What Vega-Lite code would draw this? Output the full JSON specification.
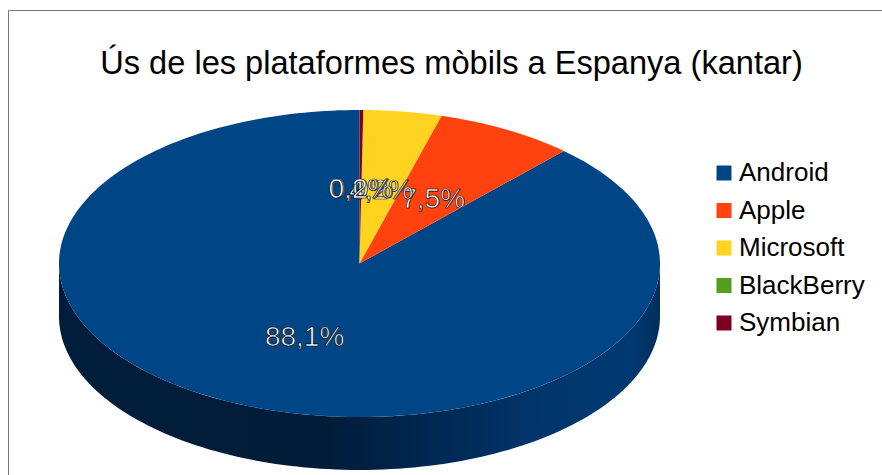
{
  "$schema": "https://vega.github.io/schema/vega-lite/v6.json",
  "width": 875,
  "height": 466,
  "padding": {"left": 8, "top": 10, "right": 0, "bottom": 0},
  "autosize": {"type": "none"},
  "background": "white",
  "title": {
    "text": "Ús de les plataformes mòbils a Espanya (kantar)",
    "font": "Liberation Sans",
    "fontSize": 32.6,
    "fontWeight": "normal",
    "color": "#000000",
    "anchor": "middle",
    "baseline": "alphabetic",
    "offset": -97,
    "dx": 6
  },
  "data": {
    "values": [
      {"platform": "Android", "share": 88.1},
      {"platform": "Apple", "share": 7.5},
      {"platform": "Microsoft", "share": 4.2},
      {"platform": "BlackBerry", "share": 0.0},
      {"platform": "Symbian", "share": 0.2}
    ]
  },
  "transform": [
    {"window": [{"op": "row_number", "as": "rank"}]},
    {"window": [{"op": "sum", "field": "share", "as": "cum"}], "sort": [{"field": "rank"}], "frame": [null, 0]},
    {"calculate": "PI / 2 + 2 * PI * (datum.cum - datum.share) / 100", "as": "a0"},
    {"calculate": "PI / 2 + 2 * PI * datum.cum / 100", "as": "a1"}
  ],
  "encoding": {
    "x": {"field": "px", "type": "quantitative", "axis": null, "scale": {"domain": [-1.1697, 1.7421], "nice": false, "zero": false}},
    "y": {"field": "py", "type": "quantitative", "axis": null, "scale": {"domain": [-1.3844, 1.6515], "nice": false, "zero": false}}
  },
  "layer": [
    {
      "transform": [
        {"filter": "datum.platform === 'Android'"},
        {"calculate": "sequence(0, 121)", "as": "step"},
        {"flatten": ["step"]},
        {"calculate": "PI * (1 + datum.step / 120)", "as": "ang"},
        {"calculate": "cos(datum.ang)", "as": "px"},
        {"calculate": "sin(datum.ang)", "as": "py"},
        {"calculate": "sin(datum.ang) - 0.345", "as": "py2"}
      ],
      "mark": {
        "type": "area",
        "clip": false,
        "color": {
          "x1": 0, "y1": 0, "x2": 1, "y2": 0,
          "gradient": "linear",
          "stops": [
            {"offset": 0, "color": "#001d3b"},
            {"offset": 0.45, "color": "#001c39"},
            {"offset": 0.8, "color": "#00356a"},
            {"offset": 0.95, "color": "#003a72"},
            {"offset": 1, "color": "#002f5c"}
          ]
        }
      },
      "encoding": {"y2": {"field": "py2"}}
    },
    {
      "transform": [
        {"calculate": "sequence(0, 241)", "as": "step"},
        {"flatten": ["step"]},
        {"calculate": "datum.a0 + (datum.a1 - datum.a0) * (datum.step - 1) / 239", "as": "ang"},
        {"calculate": "datum.step === 0 ? 0 : cos(datum.ang)", "as": "px"},
        {"calculate": "datum.step === 0 ? 0 : sin(datum.ang)", "as": "py"}
      ],
      "mark": {"type": "line", "filled": true, "strokeWidth": 0, "clip": false},
      "encoding": {
        "order": {"field": "step", "type": "quantitative"},
        "color": {
          "field": "platform",
          "type": "nominal",
          "sort": ["Android", "Apple", "Microsoft", "BlackBerry", "Symbian"],
          "scale": {
            "domain": ["Android", "Apple", "Microsoft", "BlackBerry", "Symbian"],
            "range": ["#004586", "#ff420e", "#ffd320", "#579d1c", "#7e0021"]
          },
          "legend": {
            "title": null,
            "orient": "none",
            "legendX": 703,
            "legendY": 150,
            "symbolType": "square",
            "symbolSize": 225,
            "symbolStrokeWidth": 0,
            "labelFont": "Liberation Sans",
            "labelFontSize": 26,
            "labelColor": "#000000",
            "labelOffset": 2,
            "rowPadding": 11.5,
            "labelLimit": 300
          }
        }
      }
    },
    {
      "transform": [
        {"calculate": "(datum.a0 + datum.a1) / 2", "as": "mid"},
        {"calculate": "0.5 * cos(datum.mid)", "as": "px"},
        {"calculate": "0.5 * sin(datum.mid)", "as": "py"},
        {"calculate": "replace(format(datum.share, '.1f'), '.', ',') + '%'", "as": "label"}
      ],
      "mark": {
        "type": "text",
        "font": "Liberation Sans",
        "fontSize": 28,
        "baseline": "middle",
        "align": "center",
        "dy": 3,
        "fill": "#ffffff",
        "stroke": "#000000",
        "strokeWidth": 0.7,
        "clip": false
      },
      "encoding": {"text": {"field": "label", "type": "nominal"}}
    }
  ],
  "config": {
    "view": {"stroke": "#777777", "strokeWidth": 1, "fill": null}
  }
}
